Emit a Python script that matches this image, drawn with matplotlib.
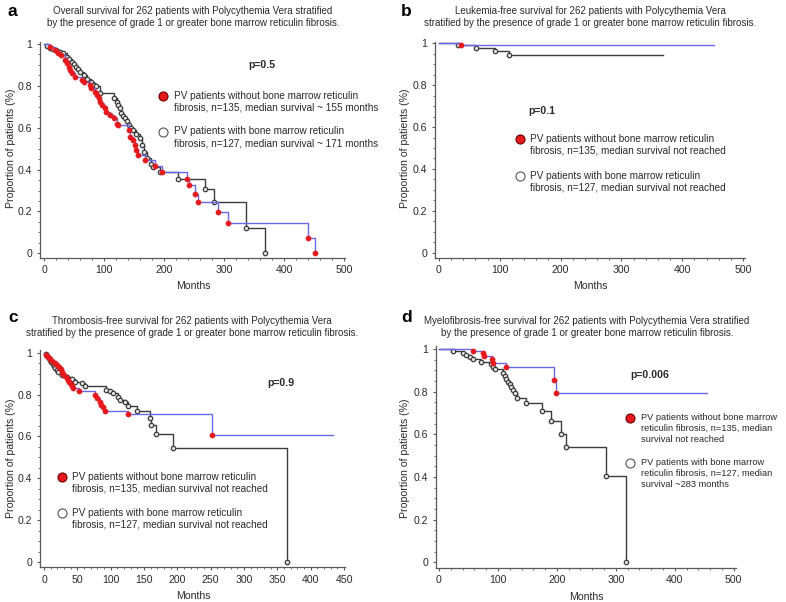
import matplotlib
matplotlib.use("Agg")
import matplotlib.pyplot as plt
from matplotlib.ticker import MultipleLocator

plt.rcParams['font.family'] = ['Liberation Sans', 'DejaVu Sans']

W, H = 786, 602

# ---------------- data ----------------
# Panel a: overall survival
a_without_t = [10, 18, 24, 29, 35, 38, 41, 43, 46, 52, 63, 66, 77, 79, 85, 88, 91, 93, 96, 102,
               104, 110, 116, 121, 124, 141, 143, 149, 152, 154, 156, 168, 185, 196, 238, 241,
               252, 257, 290, 307, 440, 452]
a_without_s = [0.985, 0.97, 0.958, 0.947, 0.923, 0.907, 0.891, 0.875, 0.86, 0.843, 0.828, 0.82,
               0.804, 0.788, 0.772, 0.756, 0.740, 0.724, 0.708, 0.692, 0.676, 0.66, 0.645, 0.62,
               0.612, 0.589, 0.557, 0.541, 0.517, 0.493, 0.469, 0.445, 0.416, 0.389, 0.357,
               0.325, 0.285, 0.246, 0.195, 0.145, 0.075, 0.0]
a_without_end = 452
a_with_t = [5, 10, 15, 20, 27, 32, 38, 42, 46, 50, 54, 57, 60, 66, 72, 79, 84, 87, 94, 117, 121,
            124, 127, 129, 132, 135, 138, 141, 145, 149, 154, 160, 163, 166, 171, 179, 182, 194,
            223, 268, 284, 337, 368]
a_with_s = [0.99, 0.98, 0.975, 0.97, 0.963, 0.955, 0.94, 0.93, 0.915, 0.905, 0.891, 0.88, 0.867,
            0.85, 0.835, 0.82, 0.805, 0.80, 0.764, 0.74, 0.724, 0.708, 0.692, 0.668, 0.655, 0.645,
            0.63, 0.612, 0.60, 0.588, 0.572, 0.549, 0.517, 0.485, 0.453, 0.429, 0.413, 0.389,
            0.354, 0.305, 0.243, 0.122, 0.0]
a_with_end = 368

# Panel b: leukemia-free survival
b_without_t = [36]
b_without_s = [0.992]
b_without_end = 452
b_with_t = [31, 61, 92, 115]
b_with_s = [0.992, 0.979, 0.963, 0.944]
b_with_end = 368

# Panel c: thrombosis-free survival
c_without_t = [3, 6, 9, 12, 16, 19, 22, 25, 27, 29, 31, 34, 36, 38, 40, 42, 44, 53, 76, 79, 84,
               86, 89, 92, 126, 252]
c_without_s = [0.99, 0.98, 0.97, 0.96, 0.95, 0.94, 0.93, 0.92, 0.91, 0.90, 0.89, 0.88, 0.87,
               0.86, 0.85, 0.84, 0.83, 0.818, 0.798, 0.782, 0.766, 0.75, 0.739, 0.721, 0.707,
               0.605]
c_without_end = 434
c_with_t = [3, 5, 7, 9, 11, 13, 15, 17, 19, 21.5, 26.5, 34, 41.5, 46.5, 56.5, 61.5, 93, 99, 104,
            111.5, 114, 121.5, 126.5, 140, 159, 160.5, 168, 193, 364]
c_with_s = [0.995, 0.985, 0.975, 0.965, 0.955, 0.945, 0.935, 0.925, 0.915, 0.909, 0.893, 0.885,
            0.872, 0.862, 0.853, 0.84, 0.824, 0.817, 0.806, 0.79, 0.774, 0.766, 0.746, 0.721,
            0.686, 0.654, 0.611, 0.547, 0.0]
c_with_end = 364

# Panel d: myelofibrosis-free survival
d_without_t = [57, 75, 76, 90.5, 92, 113, 194.6, 199]
d_without_s = [0.99, 0.98, 0.967, 0.951, 0.935, 0.914, 0.855, 0.792]
d_without_end = 454
d_with_t = [24, 40, 46, 52, 58, 72, 89, 91.7, 94.5, 108.7, 111.5, 114.3, 117.2, 120, 122.8,
            125.7, 128.5, 132.5, 148.3, 175, 190.7, 206.5, 216, 283, 318]
d_with_s = [0.99, 0.982, 0.974, 0.961, 0.953, 0.937, 0.93, 0.917, 0.905, 0.889, 0.873, 0.858,
            0.847, 0.836, 0.82, 0.808, 0.792, 0.772, 0.748, 0.709, 0.664, 0.601, 0.542, 0.406,
            0.0]
d_with_end = 318

titles = [
    "Overall survival for 262 patients with Polycythemia Vera stratified\nby the presence of grade 1 or greater bone marrow reticulin fibrosis.",
    "Leukemia-free survival for 262 patients with Polycythemia Vera\nstratified by the presence of grade 1 or greater bone marrow reticulin fibrosis.",
    "Thrombosis-free survival for 262 patients with Polycythemia Vera\nstratified by the presence of grade 1 or greater bone marrow reticulin fibrosis.",
    "Myelofibrosis-free survival for 262 patients with Polycythemia Vera stratified\nby the presence of grade 1 or greater bone marrow reticulin fibrosis.",
]
letters = ["a", "b", "c", "d"]
pvalues = ["p=0.5", "p=0.1", "p=0.9", "p=0.006"]
legend_without = [
    "PV patients without bone marrow reticulin\nfibrosis, n=135, median survival ~ 155 months",
    "PV patients without bone marrow reticulin\nfibrosis, n=135, median survival not reached",
    "PV patients without bone marrow reticulin\nfibrosis, n=135, median survival not reached",
    "PV patients without bone marrow\nreticulin fibrosis, n=135, median\nsurvival not reached",
]
legend_with = [
    "PV patients with bone marrow reticulin\nfibrosis, n=127, median survival ~ 171 months",
    "PV patients with bone marrow reticulin\nfibrosis, n=127, median survival not reached",
    "PV patients with bone marrow reticulin\nfibrosis, n=127, median survival not reached",
    "PV patients with bone marrow\nreticulin fibrosis, n=127, median\nsurvival ~283 months",
]
xticks_list = [[0, 100, 200, 300, 400, 500], [0, 100, 200, 300, 400, 500],
               [0, 50, 100, 150, 200, 250, 300, 350, 400, 450], [0, 100, 200, 300, 400, 500]]
yticks = [0, 0.2, 0.4, 0.6, 0.8, 1.0]
ytick_labels = ["0", "0.2", "0.4", "0.6", "0.8", "1"]

# ---------------- layout (pixel geometry) ----------------
layouts = [
    dict(box=(40, 345, 42, 257.7), xcal=(0, 44, 500, 344), ycal=(1, 44, 0, 253.3),
         letter=(8, 12), title=(193, 17), p=(262, 65), lfs=7.2, lls=1.2,
         leg1=(163, 96, 174), leg2=(163, 131.5, 174), xlab=(193, 286), ylab=(11, 148)),
    dict(box=(435, 745, 42, 257.7), xcal=(0, 439, 500, 743), ycal=(1, 43.3, 0, 252.7),
         letter=(401, 12), title=(590, 17), p=(542, 111), lfs=7.2, lls=1.2,
         leg1=(519.7, 139.3, 529.7), leg2=(519.7, 176, 529.7), xlab=(590, 286), ylab=(405, 148)),
    dict(box=(40, 345, 350, 567), xcal=(0, 44, 450, 344), ycal=(1, 352.7, 0, 562),
         letter=(8, 318), title=(192, 327), p=(281, 383), lfs=7.2, lls=1.2,
         leg1=(61.7, 476.7, 71.7), leg2=(61.7, 513.3, 71.7), xlab=(193, 596), ylab=(11, 458)),
    dict(box=(435.7, 736, 346, 567.7), xcal=(0, 439, 500, 733.7), ycal=(1, 349, 0, 562.3),
         letter=(401, 318), title=(587, 327), p=(650, 375), lfs=6.7, lls=1.28,
         leg1=(630.3, 418.3, 641.3), leg2=(630.3, 462.7, 641.3), xlab=(586, 597), ylab=(405, 458)),
]

groups = [
    (a_without_t, a_without_s, a_without_end, a_with_t, a_with_s, a_with_end),
    (b_without_t, b_without_s, b_without_end, b_with_t, b_with_s, b_with_end),
    (c_without_t, c_without_s, c_without_end, c_with_t, c_with_s, c_with_end),
    (d_without_t, d_without_s, d_without_end, d_with_t, d_with_s, d_with_end),
]

BLUE = '#6868ec'
RED = '#e5191c'
DARK = '#3c3c3c'
AXC = '#5a5a5a'
TXT = '#2a2a2a'

fig = plt.figure(figsize=(W / 100, H / 100), dpi=100)
fig.patch.set_facecolor('white')


def lims(cal, lo_px, hi_px):
    v0, p0, v1, p1 = cal
    k = (v1 - v0) / (p1 - p0)
    return v0 + (lo_px - p0) * k, v0 + (hi_px - p0) * k


def km_xy(t, s, end):
    xs = [0] + list(t)
    ys = [1.0] + list(s)
    if end > xs[-1]:
        xs.append(end)
        ys.append(ys[-1])
    return xs, ys


for i, lay in enumerate(layouts):
    L, R, T, B = lay['box']
    ax = fig.add_axes([L / W, 1 - B / H, (R - L) / W, (B - T) / H])
    ax.set_xlim(*lims(lay['xcal'], L, R))
    ax.set_ylim(*lims(lay['ycal'], B, T))
    for sp in ['top', 'right']:
        ax.spines[sp].set_visible(False)
    for sp in ['left', 'bottom']:
        ax.spines[sp].set_color(AXC)
        ax.spines[sp].set_linewidth(0.9)
    ax.set_xticks(xticks_list[i])
    ax.set_xticklabels([str(v) for v in xticks_list[i]])
    ax.set_yticks(yticks)
    ax.set_yticklabels(ytick_labels)
    step = xticks_list[i][1] - xticks_list[i][0]
    ax.xaxis.set_minor_locator(MultipleLocator(step / 5))
    ax.yaxis.set_minor_locator(MultipleLocator(0.05))
    ax.tick_params(which='major', direction='out', length=2.5, width=0.8, color=AXC,
                   labelsize=7.6, labelcolor=TXT, pad=3)
    ax.tick_params(which='minor', direction='out', length=1.2, width=0.6, color=AXC)
    ax.patch.set_alpha(0)

    wt, ws, wend, ct, cs, cend = groups[i]
    # with fibrosis (black)
    xs, ys = km_xy(ct, cs, cend)
    ax.step(xs, ys, where='post', color=DARK, lw=1.0, zorder=2, clip_on=False)
    ax.plot(ct, cs, ls='none', marker='o', ms=3.2, mfc='#e4e4e4', mec=DARK, mew=0.9,
            zorder=3, clip_on=False)
    # without fibrosis (blue line, red markers)
    xs, ys = km_xy(wt, ws, wend)
    ax.step(xs, ys, where='post', color=BLUE, lw=1.0, zorder=4, clip_on=False)
    ax.plot(wt, ws, ls='none', marker='o', ms=3.8, mfc=RED, mec=RED, mew=0.3,
            zorder=5, clip_on=False)

# overlay for texts in pixel coordinates
ov = fig.add_axes([0, 0, 1, 1])
ov.set_xlim(0, W)
ov.set_ylim(H, 0)
ov.axis('off')
ov.patch.set_alpha(0)

for i, lay in enumerate(layouts):
    ov.text(*lay['letter'], letters[i], fontsize=12.5, fontweight='bold', color='black',
            ha='left', va='center')
    ov.text(*lay['title'], titles[i], fontsize=7.0, color=TXT, ha='center', va='center',
            linespacing=1.2)
    ov.text(*lay['p'], pvalues[i], fontsize=7.6, fontweight='bold', color=TXT,
            ha='center', va='center')
    lfs = lay['lfs']
    mx, my, tx = lay['leg1']
    ov.plot([mx], [my], marker='o', ms=6.5, mfc=RED, mec='#6a0000', mew=0.8, ls='none')
    ov.text(tx, my - 5, legend_without[i], fontsize=lfs, color=TXT, ha='left', va='top',
            linespacing=lay['lls'])
    mx, my, tx = lay['leg2']
    ov.plot([mx], [my], marker='o', ms=6.5, mfc='white', mec='#555555', mew=0.8, ls='none')
    ov.text(tx, my - 5, legend_with[i], fontsize=lfs, color=TXT, ha='left', va='top',
            linespacing=lay['lls'])
    ov.text(*lay['xlab'], "Months", fontsize=7.6, color=TXT, ha='center', va='center')
    ov.text(*lay['ylab'], "Proportion of patients (%)", fontsize=7.6, color=TXT, ha='center',
            va='center', rotation=90)

fig.savefig("out.png", dpi=100, facecolor='white')
